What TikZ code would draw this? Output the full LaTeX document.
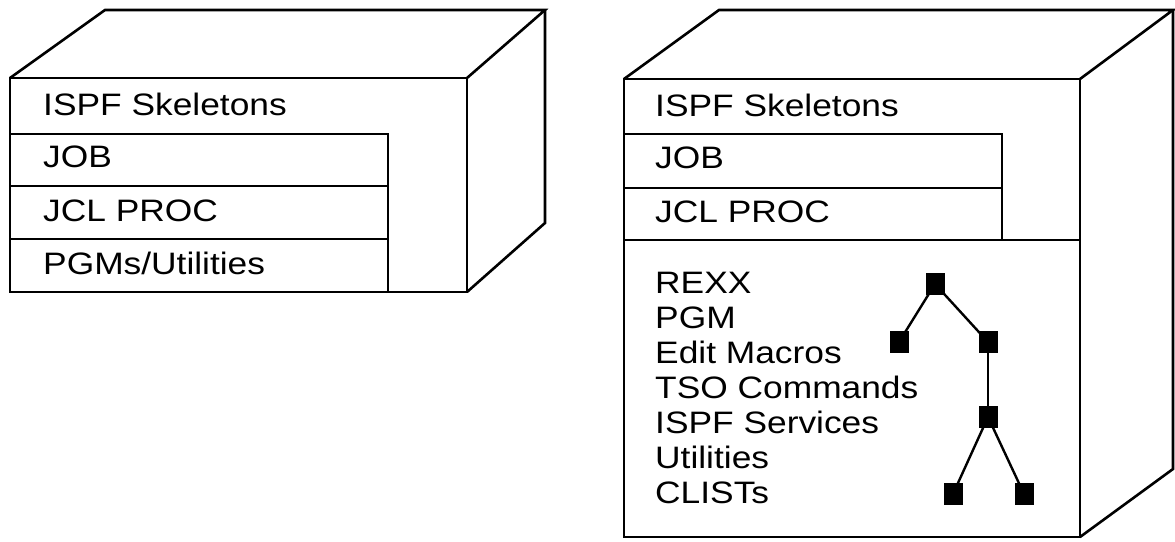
\documentclass[tikz,border=0pt]{standalone}
\usepackage{fontspec}
\setmainfont{Liberation Sans}[FakeStretch=1.14]
\begin{document}
\begin{tikzpicture}[x=1pt,y=-1pt,
  boxline/.style={line width=2.6pt, line join=miter},
  innerline/.style={line width=2.2pt},
  lbl/.style={anchor=base west, inner sep=0pt, font=\fontsize{31}{35}\selectfont},
  sq/.style={fill=black, minimum width=19pt, minimum height=22pt, inner sep=0pt},
  treeline/.style={line width=2.4pt}]
\useasboundingbox (0,0) rectangle (1175,541);
% ---------- left box ----------
\draw[boxline] (10,78) -- (105,10) -- (545,10) -- (467,78);
\draw[boxline] (545,10) -- (545,223) -- (467,292);
\draw[boxline] (10,78) rectangle (467,292);
\draw[innerline] (10,134) rectangle (388,292);
\draw[innerline] (10,186) -- (388,186);
\draw[innerline] (10,239) -- (388,239);
\node[lbl] (l1) at (43,115) {ISPF Skeletons};
\node[lbl] (l2) at (43,167) {JOB};
\node[lbl] (l3) at (43,221) {JCL PROC};
\node[lbl] (l4) at (43,274) {PGMs/Utilities};
% ---------- right box ----------
\draw[boxline] (624,79) -- (719,10) -- (1173,10) -- (1080,79);
\draw[boxline] (1173,10) -- (1173,469) -- (1080,537);
\draw[boxline] (624,79) rectangle (1080,537);
\draw[innerline] (624,134) rectangle (1002,240);
\draw[innerline] (624,188) -- (1002,188);
\draw[innerline] (624,240) -- (1080,240);
\node[lbl] (r1) at (655,116) {ISPF Skeletons};
\node[lbl] (r2) at (655,168) {JOB};
\node[lbl] (r3) at (655,222) {JCL PROC};
\node[lbl] (t1) at (655,293) {REXX};
\node[lbl] (t2) at (655,328) {PGM};
\node[lbl] (t3) at (655,363) {Edit Macros};
\node[lbl] (t4) at (655,398) {TSO Commands};
\node[lbl] (t5) at (655,433) {ISPF Services};
\node[lbl] (t6) at (655,468) {Utilities};
\node[lbl] (t7) at (655,503) {CLISTs};
% ---------- tree ----------
\coordinate (ca) at (935,284);
\coordinate (cb) at (899,342);
\coordinate (cc) at (988,342);
\coordinate (cd) at (988,417);
\coordinate (ce) at (953,494);
\coordinate (cf) at (1024,494);
\draw[treeline] (ca) -- (cb);
\draw[treeline] (ca) -- (cc);
\draw[treeline] (cc) -- (cd);
\draw[treeline] (cd) -- (ce);
\draw[treeline] (cd) -- (cf);
\node[sq] (a) at (ca) {};
\node[sq] (b) at (cb) {};
\node[sq] (c) at (cc) {};
\node[sq] (d) at (cd) {};
\node[sq] (e) at (ce) {};
\node[sq] (f) at (cf) {};
\end{tikzpicture}
\end{document}
